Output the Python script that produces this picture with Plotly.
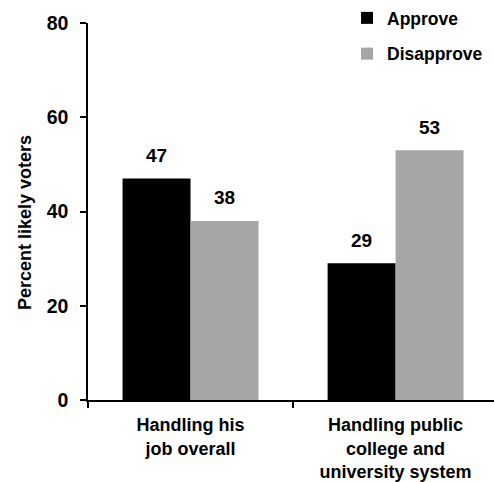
import plotly.graph_objects as go

categories = ["Handling his<br>job overall", "Handling public<br>college and<br>university system"]
series_names = ["Approve", "Disapprove"]
approve = [47, 29]
disapprove = [38, 53]
y_ticks = [0, 20, 40, 60, 80]
y_title = "Percent likely voters"

colors = ["#000000", "#A6A6A6"]
FONT = "Liberation Sans, Arial, sans-serif"
BAR_HALF_PX = 34

fig = go.Figure()
all_vals = [approve, disapprove]
for i, (name, vals) in enumerate(zip(series_names, all_vals)):
    fig.add_trace(go.Bar(
        x=categories, y=vals, name=name,
        marker=dict(color=colors[i], line=dict(width=0)),
        legendgroup=name,
    ))
    for c, v in zip(categories, vals):
        fig.add_annotation(
            x=c, y=v, xref="x", yref="y", text=str(v), showarrow=False,
            xshift=(-1 if i == 0 else 1) * BAR_HALF_PX, yshift=23,
            font=dict(family=FONT, size=19, color="black", weight="bold"),
        )

fig.add_annotation(
    x=0, y=0.4695, xref="paper", yref="paper", text=y_title, showarrow=False,
    textangle=-90, xanchor="center", yanchor="middle", xshift=-63,
    font=dict(family=FONT, size=18, color="black", weight="bold"),
)

fig.update_layout(
    width=494, height=482,
    margin=dict(l=88, r=0, t=23, b=82),
    paper_bgcolor="white", plot_bgcolor="white",
    barmode="group", bargap=0.337, bargroupgap=0,
    font=dict(family=FONT, size=18, color="black", weight="bold"),
    showlegend=True,
    legend=dict(
        x=0.638, xanchor="left", y=1.061, yanchor="top",
        font=dict(family=FONT, size=17.5, color="black", weight="bold"),
        tracegroupgap=10, bgcolor="rgba(0,0,0,0)",
    ),
)
fig.update_xaxes(
    range=[-0.5, 1.48], showline=True, linecolor="black", linewidth=1.5,
    ticks="outside", tickson="boundaries", ticklen=6, tickcolor="black", tickwidth=1.5,
    tickfont=dict(family=FONT, size=18, color="black", weight="bold"),
    ticklabelstandoff=8, automargin=False,
    showgrid=False, zeroline=False,
)
fig.update_yaxes(
    range=[0, 80], tickvals=y_ticks, showline=True, linecolor="black", linewidth=1.5,
    ticks="outside", ticklen=6, tickcolor="black", tickwidth=1.5,
    tickfont=dict(family=FONT, size=19.5, color="black", weight="bold"),
    ticklabelstandoff=8, automargin=False,
    showgrid=False, zeroline=False,
)
fig.write_html("out.html", config={"displayModeBar": False},
               post_script="document.body.style.margin='0px';")
